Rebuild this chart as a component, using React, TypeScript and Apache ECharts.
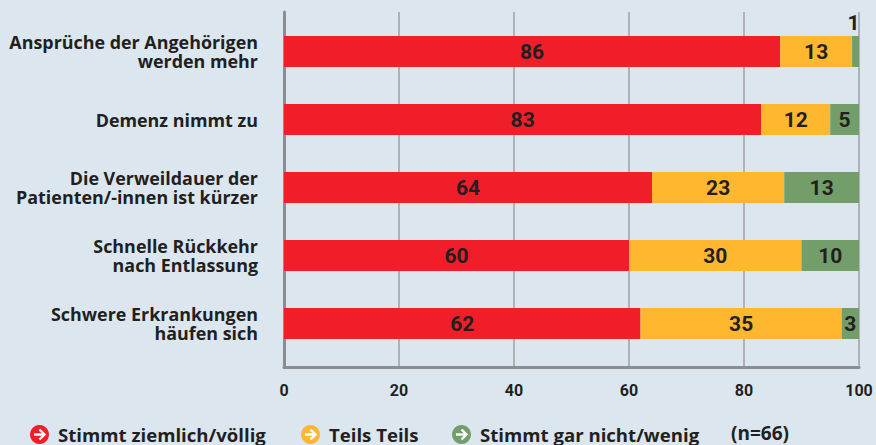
import React, { useEffect, useRef } from "react";
import * as echarts from "echarts";

const categories = [
  "Ansprüche der Angehörigen\nwerden mehr",
  "Demenz nimmt zu",
  "Die Verweildauer der\nPatienten/-innen ist kürzer",
  "Schnelle Rückkehr\nnach Entlassung",
  "Schwere Erkrankungen\nhäufen sich",
];
const zustimmung = [86.3, 83, 64, 60, 62];
const teils = [12.5, 12, 23, 30, 35];
const ablehnung = [1.2, 5, 13, 10, 3];
const xTicks = { min: 0, max: 100, interval: 20 };
const seriesNames = ["Stimmt ziemlich/völlig", "Teils Teils", "Stimmt gar nicht/wenig"];
const sampleNote = "(n=66)";

const FONT = "Open Sans";
const NUM_FONT = "Roboto";
const INK = "#231f20";
const RED = "#f01e28";
const ORANGE = "#ffb72f";
const GREEN = "#739e69";
const BG = "#dbe6ef";

const barLabel = {
  show: true,
  position: "inside" as const,
  color: INK,
  fontFamily: NUM_FONT,
  fontWeight: "bold" as const,
  fontSize: 21,
  formatter: (p: any) => String(Math.round(p.value)),
};

function arrow(cx: number, cy: number) {
  return [
    {
      type: "polyline",
      z: 100,
      silent: true,
      shape: { points: [[cx - 5.5, cy], [cx + 4.5, cy]] },
      style: { stroke: "#fff", lineWidth: 2.4, fill: "none" },
    },
    {
      type: "polyline",
      z: 100,
      silent: true,
      shape: { points: [[cx, cy - 5], [cx + 5, cy], [cx, cy + 5]] },
      style: { stroke: "#fff", lineWidth: 2.4, fill: "none" },
    },
  ];
}

function legendAt(name: string, left: number) {
  return {
    data: [name],
    left,
    top: 425,
    icon: "circle",
    itemWidth: 19,
    itemHeight: 19,
    itemGap: 0,
    padding: 0,
    selectedMode: false,
    textStyle: {
      color: INK,
      fontFamily: FONT,
      fontWeight: "bold" as const,
      fontSize: 18.6,
      padding: [0, 0, 2, 4],
    },
  };
}

export default function App() {
  const ref = useRef<HTMLDivElement>(null);
  useEffect(() => {
    document.body.style.margin = "0";
    const chart = echarts.init(ref.current!, undefined, { renderer: "svg" });
    chart.setOption({
      animation: false,
      backgroundColor: BG,
      grid: [
        { left: 284, width: 575, top: 12, height: 355 },
        { left: 284, width: 575, top: 17.5, height: 340 },
      ],
      xAxis: [
        {
          gridIndex: 0,
          type: "value",
          ...xTicks,
          axisLine: { show: true, lineStyle: { color: "#8c8d90", width: 3 } },
          axisTick: { show: false },
          splitLine: { show: true, lineStyle: { color: "#aeb2b7", width: 2 } },
          axisLabel: {
            color: INK,
            fontFamily: NUM_FONT,
            fontWeight: "bold",
            fontSize: 16,
            margin: 15,
          },
        },
        { gridIndex: 1, type: "value", ...xTicks, show: false },
      ],
      yAxis: [
        {
          gridIndex: 0,
          type: "value",
          min: 0,
          max: 1,
          axisLine: { show: true, lineStyle: { color: "#8c8d90", width: 3 } },
          axisTick: { show: false },
          axisLabel: { show: false },
          splitLine: { show: false },
        },
        {
          gridIndex: 1,
          type: "category",
          inverse: true,
          data: categories,
          axisLine: { show: false },
          axisTick: { show: false },
          axisLabel: {
            color: INK,
            fontFamily: FONT,
            fontWeight: "bold",
            fontSize: 17.9,
            lineHeight: 19,
            align: "right",
            margin: 26,
            interval: 0,
          },
        },
      ],
      legend: [
        legendAt(seriesNames[0], 30),
        legendAt(seriesNames[1], 301),
        legendAt(seriesNames[2], 452),
      ],
      graphic: [
        ...arrow(39.5, 434.5),
        ...arrow(310.5, 434.5),
        ...arrow(461.5, 434.5),
        {
          type: "text",
          left: 731,
          top: 423,
          style: {
            text: sampleNote,
            fill: INK,
            fontFamily: FONT,
            fontWeight: "bold",
            fontSize: 19,
          },
        },
      ],
      series: [
        {
          name: seriesNames[0],
          type: "bar",
          xAxisIndex: 1,
          yAxisIndex: 1,
          stack: "a",
          barWidth: 31,
          data: zustimmung,
          itemStyle: { color: RED },
          label: barLabel,
        },
        {
          name: seriesNames[1],
          type: "bar",
          xAxisIndex: 1,
          yAxisIndex: 1,
          stack: "a",
          barWidth: 31,
          data: teils,
          itemStyle: { color: ORANGE },
          label: barLabel,
        },
        {
          name: seriesNames[2],
          type: "bar",
          xAxisIndex: 1,
          yAxisIndex: 1,
          stack: "a",
          barWidth: 31,
          data: ablehnung.map((v, i) =>
            i === 0
              ? { value: v, label: { position: "top", distance: 3, offset: [-2, 0] } }
              : v
          ),
          itemStyle: { color: GREEN },
          label: barLabel,
        },
      ],
    });
    return () => chart.dispose();
  }, []);
  return <div ref={ref} style={{ width: 876, height: 445 }} />;
}
